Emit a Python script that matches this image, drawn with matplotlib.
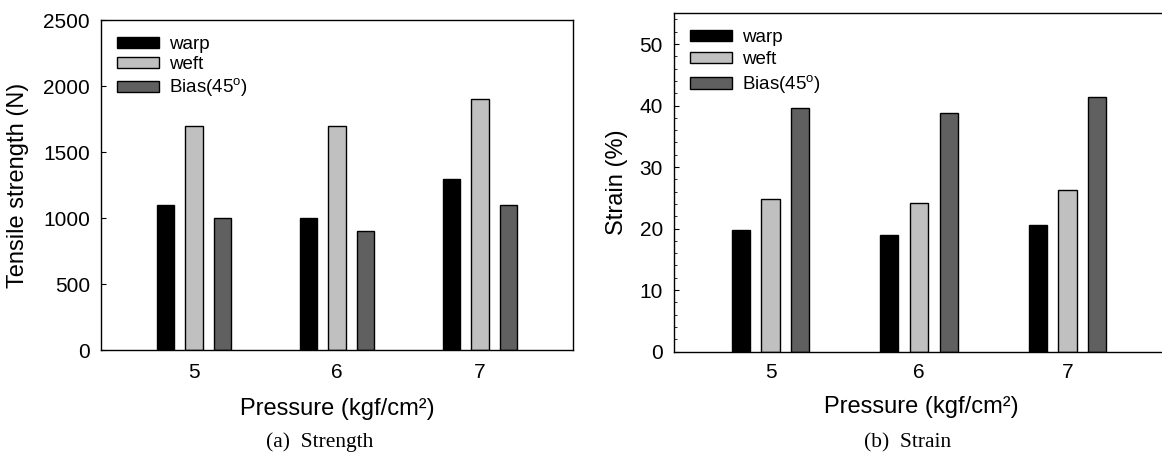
import matplotlib
matplotlib.use("Agg")
import matplotlib.pyplot as plt
import numpy as np
from matplotlib.ticker import MultipleLocator

pressures = [5, 6, 7]
series = ["warp", "weft", r"Bias(45$^{\mathrm{o}}$)"]
strength_warp = [1100, 1000, 1300]
strength_weft = [1700, 1700, 1900]
strength_bias = [1000, 900, 1100]
strain_warp = [19.8, 18.9, 20.5]
strain_weft = [24.8, 24.2, 26.2]
strain_bias = [39.6, 38.8, 41.4]
colors = ["#000000", "#c0c0c0", "#606060"]

plt.rcParams['font.family'] = ['Liberation Sans', 'DejaVu Sans']
plt.rcParams['mathtext.fontset'] = 'custom'
plt.rcParams['mathtext.rm'] = 'Liberation Sans'

W, H = 1162, 455
fig = plt.figure(figsize=(W / 100, H / 100), dpi=100)

ax1 = fig.add_axes([101 / W, 1 - 350.3 / H, 472 / W, 330.3 / H])
ax2 = fig.add_axes([674 / W, 1 - 351.5 / H, 490 / W, 338.2 / H])

x = np.array(pressures, dtype=float)
bw = 0.122
off = 0.2

def draw(ax, vals, lspace):
    for i, (v, c, lab) in enumerate(zip(vals, colors, series)):
        ax.bar(x + (i - 1) * off, v, width=bw, color=c, edgecolor='black',
               linewidth=1.0, label=lab)
    ax.set_xlim(4.35, 7.65)
    ax.set_xticks(pressures)
    ax.set_xticklabels([str(p) for p in pressures])
    ax.tick_params(axis='x', length=0, labelsize=15)
    ax.tick_params(axis='y', direction='in', labelsize=15, pad=8)
    for s in ax.spines.values():
        s.set_linewidth(1.0)
    ax.legend(loc='upper left', bbox_to_anchor=(0.0, 1.0), frameon=False,
              fontsize=13.5, handlelength=2.25, handleheight=0.55,
              labelspacing=lspace, handletextpad=0.55, borderaxespad=0.45)

draw(ax1, [strength_warp, strength_weft, strength_bias], 0.18)
ax1.set_ylim(0, 2500)
ax1.set_yticks([0, 500, 1000, 1500, 2000, 2500])
ax1.tick_params(axis='x', pad=9)
ax1.set_ylabel("Tensile strength (N)", fontsize=17)
ax1.yaxis.set_label_coords(-0.153, 0.5)
ax1.set_xlabel("Pressure (kgf/cm²)", fontsize=17)
ax1.xaxis.set_label_coords(0.5, -0.144)

draw(ax2, [strain_warp, strain_weft, strain_bias], 0.26)
ax2.set_ylim(0, 55)
ax2.set_yticks([0, 10, 20, 30, 40, 50])
ax2.yaxis.set_minor_locator(MultipleLocator(2))
ax2.tick_params(axis='y', which='minor', direction='in', length=2.5)
ax2.tick_params(axis='x', pad=8)
ax2.set_ylabel("Strain (%)", fontsize=17)
ax2.yaxis.set_label_coords(-0.094, 0.5)
ax2.set_xlabel("Pressure (kgf/cm²)", fontsize=17)
ax2.xaxis.set_label_coords(0.505, -0.132)

fig.text(320 / W, 1 - 442 / H, "(a)  Strength", ha='center', va='center',
         fontsize=15.5, family=['Liberation Serif', 'DejaVu Serif'])
fig.text(908 / W, 1 - 443 / H, "(b)  Strain", ha='center', va='center',
         fontsize=15.5, family=['Liberation Serif', 'DejaVu Serif'])

fig.savefig("out.png", dpi=100)
